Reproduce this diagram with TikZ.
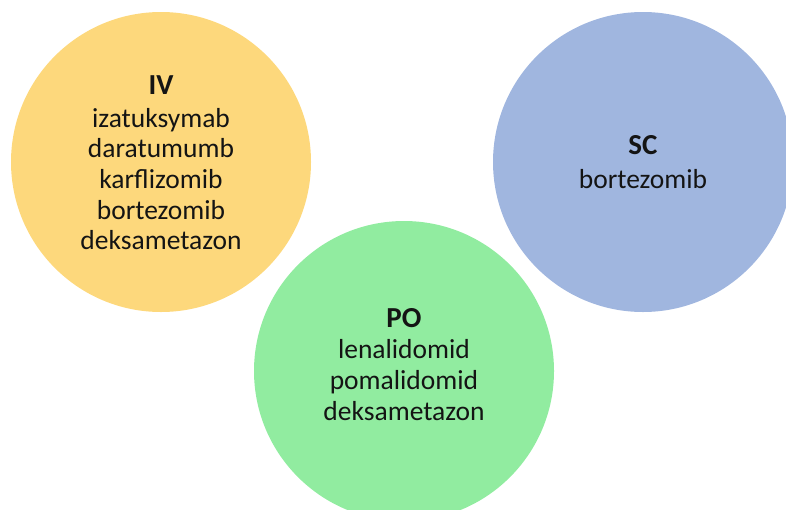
\documentclass[tikz,border=0pt]{standalone}
\usepackage{fontspec}
\setmainfont{Carlito}
\definecolor{ivfill}{HTML}{FDD87C}
\definecolor{scfill}{HTML}{A0B6DF}
\definecolor{pofill}{HTML}{91ECA0}
\definecolor{ink}{HTML}{141414}
\tikzset{
  route/.style={circle, minimum size=300pt, inner sep=0pt, draw=none},
  heading/.style={anchor=base, inner sep=0pt, text=ink, font=\fontsize{29}{33}\selectfont\bfseries},
  drug/.style={anchor=base, inner sep=0pt, text=ink, font=\fontsize{27.5}{31}\selectfont},
}
\begin{document}
\begin{tikzpicture}[x=1pt, y=-1pt]
  \useasboundingbox (0,0) rectangle (786,509);
  \clip (0,0) rectangle (786,509);
  % the three administration routes
  \node[route, fill=ivfill] (iv) at (161,162) {};
  \node[route, fill=scfill] (sc) at (643,162) {};
  \node[route, fill=pofill] (po) at (404,371) {};
  % intravenous
  \node[heading] (ivt) at (161,94) {IV};
  \foreach \d [count=\i] in {izatuksymab,daratumumb,karflizomib,bortezomib,deksametazon}
    \node[drug] (iv\i) at (161,{127+30.7*(\i-1)}) {\d};
  % subcutaneous
  \node[heading] (sct) at (643,154) {SC};
  \node[drug] (sc1) at (643,188) {bortezomib};
  % oral
  \node[heading] (pot) at (404,327) {PO};
  \foreach \d [count=\i] in {lenalidomid,pomalidomid,deksametazon}
    \node[drug] (po\i) at (404,{358+31*(\i-1)}) {\d};
\end{tikzpicture}
\end{document}
